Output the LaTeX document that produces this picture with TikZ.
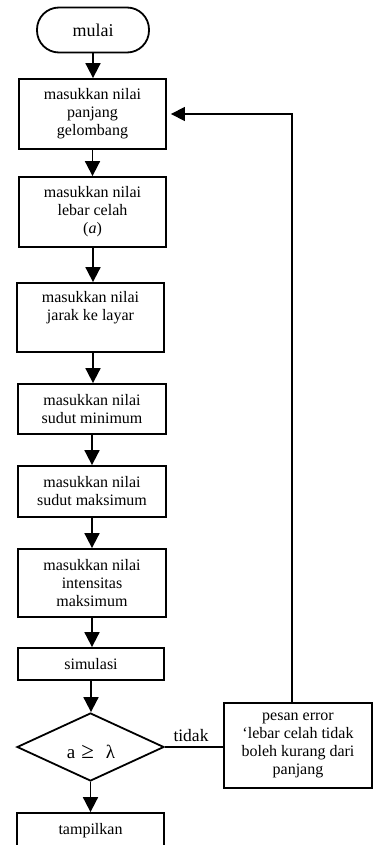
\documentclass[tikz,border=0pt]{standalone}
\usepackage{fontspec}
\setmainfont{Liberation Serif}
\usetikzlibrary{arrows.meta,shapes.geometric}
\begin{document}
\begin{tikzpicture}[x=1pt,y=-1pt,
  every node/.style={font=\fontsize{16pt}{18pt}\selectfont, inner sep=0pt},
  box/.style={draw, line width=1.8pt, align=center},
  arr/.style={-{Triangle[length=15pt,width=15pt]}, line width=1.8pt},
  fb/.style={-{Triangle[length=14pt,width=14pt]}, line width=1.3pt},
  plain/.style={line width=1.6pt}]
\useasboundingbox (0,0) rectangle (373,845);
\node[box, rounded corners=22pt, minimum width=112pt, minimum height=45pt,
  font=\fontsize{18pt}{20pt}\selectfont] (start) at (93,30) {mulai};
\node[box, minimum width=147pt, minimum height=70pt] (b1) at (92.5,114)
  {masukkan nilai\\panjang\\gelombang};
\node[box, minimum width=147pt, minimum height=70pt] (b2) at (92.5,212)
  {masukkan nilai\\lebar celah\\(\textit{a})};
\node[box, minimum width=147pt, minimum height=69pt] (b3) at (90.5,317.5) {};
\node[align=center] (b3t) at (90.5,307.5) {masukkan nilai\\jarak ke layar};
\node[box, minimum width=148pt, minimum height=50pt] (b4) at (92,409)
  {masukkan nilai\\sudut minimum};
\node[box, minimum width=148pt, minimum height=51pt] (b5) at (92,491.5)
  {masukkan nilai\\sudut maksimum};
\node[box, minimum width=148pt, minimum height=68pt] (b6) at (92,583)
  {masukkan nilai\\intensitas\\maksimum};
\node[box, minimum width=146pt, minimum height=32pt] (b7) at (91,664) {simulasi};
\node[draw, line width=1.8pt, diamond, minimum width=147pt, minimum height=68pt] (d) at (90.5,747) {};
\node[font=\fontsize{19pt}{21pt}\selectfont] (dt) at (91,752)
  {a\hspace{6pt}{\fontsize{23pt}{25pt}\selectfont ≥}\hspace{12pt}λ};
\node[box, minimum width=148pt, minimum height=85pt] (err) at (298,745.5)
  {pesan error\\‘lebar celah tidak\\boleh kurang dari\\panjang};
\node[box, minimum width=147pt, minimum height=60pt] (tamp) at (90.5,843) {};
\node (tampt) at (90.5,831) {tampilkan};
\node[font=\fontsize{17.5pt}{19pt}\selectfont] (tidak) at (191,736) {tidak};
\draw[arr] (start.south) -- (start.south |- b1.north);
\draw[arr] (b1.south) -- (b1.south |- b2.north);
\draw[arr] ([xshift=0.5pt]b2.south) -- ([xshift=0.5pt]b2.south |- b3.north);
\draw[arr] ([xshift=2.5pt]b3.south) -- ([xshift=2.5pt]b3.south |- b4.north);
\draw[arr] (b4.south) -- (b4.south |- b5.north);
\draw[arr] (b5.south) -- (b5.south |- b6.north);
\draw[arr] (b6.south) -- (b6.south |- b7.north);
\draw[arr] (b7.south) -- (b7.south |- d.north);
\draw[arr] (d.south) -- (d.south |- tamp.north);
\draw[plain] (d.east) -- (d.east -| err.west);
\coordinate (up) at ([xshift=-6pt]err.north);
\coordinate (corner) at (up |- b1.east);
\draw[fb] (up) -- (corner) -- ([xshift=4pt]b1.east);
\end{tikzpicture}
\end{document}
